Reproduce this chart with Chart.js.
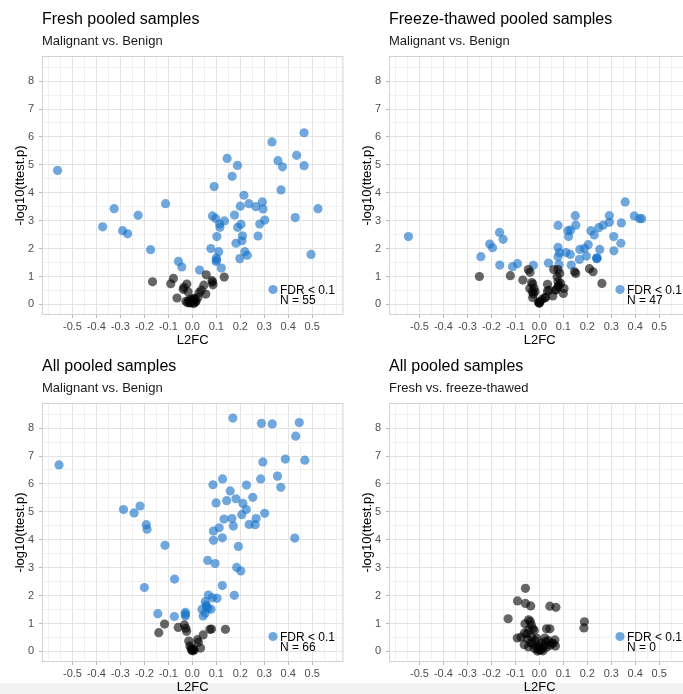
<!DOCTYPE html>
<html><head><meta charset="utf-8">
<script src="https://cdn.jsdelivr.net/npm/chart.js@4/dist/chart.umd.min.js"></script>
<style>
html,body{margin:0;padding:0;background:#fff;overflow:hidden;width:683px;height:694px;position:relative;}
.strip{position:absolute;left:0;top:683px;width:683px;height:11px;background:#f2f2f2;z-index:0;}
.panel{position:absolute;width:348px;height:347px;z-index:1;}
canvas{display:block;}
</style></head><body>
<div class="strip"></div>
<div class="panel" style="left:0;top:0"><canvas id="c0" width="348" height="347"></canvas></div>
<div class="panel" style="left:347px;top:0"><canvas id="c1" width="348" height="347"></canvas></div>
<div class="panel" style="left:0;top:347px"><canvas id="c2" width="348" height="347"></canvas></div>
<div class="panel" style="left:347px;top:347px"><canvas id="c3" width="348" height="347"></canvas></div>
<script>
// ---- data ----
const panelTitles = ['Fresh pooled samples', 'Freeze-thawed pooled samples', 'All pooled samples', 'All pooled samples'];
const panelSubtitles = ['Malignant vs. Benign', 'Malignant vs. Benign', 'Malignant vs. Benign', 'Fresh vs. freeze-thawed'];
const panelN = [55, 47, 66, 0];
const legendLabel = 'FDR < 0.1';
const xTitle = 'L2FC';
const yTitle = '-log10(ttest.p)';
const xTickLabels = ['-0.5','-0.4','-0.3','-0.2','-0.1','0.0','0.1','0.2','0.3','0.4','0.5'];
const yTickLabels = ['0','1','2','3','4','5','6','7','8'];

const freshSig = [[-0.562,4.80],[-0.326,3.43],[-0.374,2.78],[-0.291,2.64],[-0.270,2.53],[-0.226,3.19],[-0.174,1.96],[-0.112,3.61],[-0.058,1.54],[-0.044,1.34],[0.030,1.23],[0.077,2.00],[0.084,3.17],[0.091,4.22],[0.097,3.08],[0.100,1.66],[0.099,1.54],[0.101,1.59],[0.102,2.43],[0.110,1.89],[0.114,2.88],[0.115,2.76],[0.121,1.30],[0.134,2.99],[0.145,5.23],[0.166,4.59],[0.176,3.20],[0.182,2.19],[0.188,4.98],[0.189,2.76],[0.198,1.64],[0.200,3.52],[0.203,2.87],[0.209,2.46],[0.207,2.28],[0.215,3.91],[0.219,1.89],[0.229,1.76],[0.236,3.61],[0.265,3.50],[0.274,2.45],[0.281,2.88],[0.292,3.67],[0.295,3.42],[0.302,3.02],[0.332,5.82],[0.357,5.15],[0.370,4.10],[0.376,4.93],[0.429,3.11],[0.435,5.34],[0.466,6.15],[0.466,4.97],[0.495,1.79],[0.524,3.43]];
const freshNs = [[-0.166,0.81],[-0.090,0.74],[-0.079,0.93],[-0.064,0.23],[-0.038,0.54],[-0.035,0.61],[-0.023,0.73],[-0.018,0.45],[-0.027,0.11],[-0.015,0.15],[-0.004,0.18],[0.003,0.09],[0.010,0.20],[0.016,0.12],[0.023,0.25],[0.028,0.42],[0.037,0.51],[0.048,0.69],[0.056,0.37],[0.058,1.06],[0.082,0.85],[0.086,0.70],[0.084,0.80],[0.133,0.98],[-0.008,0.05],[0.006,0.03],[0.012,0.08],[-0.012,0.06],[0.000,0.14],[0.005,0.22],[-0.020,0.06]];

const thawSig = [[-0.546,2.43],[-0.244,1.71],[-0.207,2.16],[-0.195,2.03],[-0.166,2.58],[-0.165,1.41],[-0.151,2.33],[-0.112,1.35],[-0.091,1.46],[-0.025,1.40],[0.038,1.48],[0.078,2.83],[0.078,2.04],[0.078,1.71],[0.084,1.85],[0.082,1.43],[0.111,1.86],[0.119,2.64],[0.122,2.43],[0.130,2.66],[0.129,1.79],[0.133,1.41],[0.150,3.18],[0.152,2.84],[0.167,1.61],[0.169,1.97],[0.188,2.01],[0.196,1.73],[0.204,2.14],[0.215,2.64],[0.229,2.49],[0.239,1.65],[0.241,1.67],[0.248,2.75],[0.252,1.97],[0.266,2.84],[0.292,3.18],[0.292,2.94],[0.310,2.43],[0.311,1.92],[0.340,2.19],[0.342,2.92],[0.358,3.67],[0.396,3.17],[0.418,3.07],[0.427,3.07],[0.240,1.64]];
const thawNs = [[-0.250,1.00],[-0.121,1.03],[-0.069,0.87],[-0.046,1.25],[-0.039,1.15],[-0.040,0.57],[-0.032,0.78],[-0.027,0.73],[-0.029,0.45],[-0.025,0.37],[-0.028,0.25],[-0.022,0.57],[-0.018,0.45],[-0.004,0.08],[0.000,0.04],[0.003,0.10],[0.012,0.18],[0.023,0.24],[0.034,0.72],[0.040,0.51],[0.034,0.48],[0.056,0.30],[0.060,1.25],[0.071,0.54],[0.074,0.99],[0.078,1.25],[0.078,0.81],[0.081,0.69],[0.085,1.11],[0.089,0.75],[0.100,0.39],[0.103,0.57],[0.147,1.17],[0.152,1.11],[0.209,1.28],[0.224,1.17],[0.261,0.75],[0.067,0.51],[0.078,0.63],[0.000,0.06],[0.026,0.25]];

const allSig = [[-0.556,6.68],[-0.287,5.08],[-0.243,4.96],[-0.218,5.21],[-0.192,4.54],[-0.189,4.38],[-0.200,2.29],[-0.114,3.80],[-0.144,1.35],[-0.074,2.59],[-0.075,1.25],[-0.029,1.40],[-0.029,1.33],[-0.029,1.27],[0.040,1.51],[0.045,1.27],[0.054,1.78],[0.054,1.38],[0.058,1.66],[0.065,1.54],[0.067,2.02],[0.064,3.26],[0.078,1.51],[0.084,1.92],[0.088,4.31],[0.088,3.98],[0.086,5.97],[0.095,3.15],[0.099,5.32],[0.103,1.90],[0.112,4.43],[0.125,2.36],[0.125,4.07],[0.126,6.18],[0.132,4.74],[0.143,5.40],[0.158,5.75],[0.165,4.76],[0.169,8.36],[0.171,4.49],[0.175,2.01],[0.182,5.47],[0.185,3.01],[0.192,3.76],[0.202,2.88],[0.206,4.90],[0.211,5.30],[0.225,5.08],[0.226,5.96],[0.237,4.55],[0.252,5.52],[0.262,4.54],[0.266,4.76],[0.285,6.18],[0.288,8.17],[0.294,6.79],[0.302,4.95],[0.333,8.15],[0.355,6.28],[0.369,5.88],[0.388,6.89],[0.427,4.06],[0.431,7.71],[0.446,8.20],[0.469,6.85],[0.060,1.60]];
const allNs = [[-0.140,0.67],[-0.116,0.98],[-0.059,0.86],[-0.033,0.95],[-0.027,0.83],[-0.024,0.72],[-0.015,0.37],[-0.006,0.12],[0.000,0.06],[0.004,0.09],[-0.003,0.04],[0.008,0.05],[0.021,0.42],[0.025,0.33],[0.034,0.12],[0.045,0.59],[0.073,0.79],[0.080,0.80],[0.138,0.79],[-0.010,0.20],[0.002,0.02]];

const ftSig = [];
const ftNs = [[-0.130,1.17],[-0.091,1.81],[-0.058,2.26],[-0.058,1.72],[-0.036,1.63],[0.044,1.62],[0.069,1.58],[0.188,1.06],[0.186,0.84],[-0.092,0.48],[-0.076,0.51],[-0.062,0.66],[-0.063,0.24],[-0.060,0.99],[-0.045,1.13],[-0.038,1.08],[-0.043,0.78],[-0.033,0.95],[-0.027,0.81],[-0.021,0.75],[-0.032,0.51],[-0.045,0.16],[-0.029,0.27],[-0.018,0.39],[-0.010,0.16],[-0.004,0.06],[0.004,0.04],[0.012,0.10],[0.021,0.22],[0.023,0.48],[0.030,0.81],[0.044,0.81],[0.037,0.39],[0.051,0.30],[0.065,0.41],[0.067,0.19],[0.058,0.29],[-0.052,0.63],[-0.011,0.47],[-0.035,0.30],[0.002,0.12],[0.010,0.30],[0.030,0.15],[-0.020,0.10],[0.015,0.02],[-0.008,0.01],[0.045,0.22],[-0.050,0.45],[0.026,0.35],[0.000,0.20]];

const panelSig = [freshSig, thawSig, allSig, ftSig];
const panelNs = [freshNs, thawNs, allNs, ftNs];

// ---- styling ----
const FONT = "'Liberation Sans', Arial, Helvetica, sans-serif";
Chart.defaults.font.family = FONT;
const SIG = 'rgba(25,115,200,0.62)';
const NS = 'rgba(0,0,0,0.6)';
const GRID_MAJOR = '#e3e3e3';
const GRID_MINOR = '#f0f0f0';

function xLabelFor(v) {
  const k = Math.round(v * 10);
  if (Math.abs(v * 10 - k) > 1e-6) return '';
  const i = k + 5;
  return (i >= 0 && i < xTickLabels.length) ? xTickLabels[i] : '';
}
function yLabelFor(v) {
  const k = Math.round(v);
  if (Math.abs(v - k) > 1e-6) return '';
  return (k >= 0 && k < yTickLabels.length) ? yTickLabels[k] : '';
}

const decor = {
  id: 'decor',
  afterDraw(chart, args, opts) {
    const {ctx, chartArea: a} = chart;
    ctx.save();
    ctx.strokeStyle = '#d2d2d2';
    ctx.lineWidth = 1;
    ctx.strokeRect(a.left + 0.5, a.top + 0.5, a.right - a.left - 1, a.bottom - a.top - 1);
    const cx = a.left + 231, cy = a.bottom - 25.5;
    ctx.fillStyle = SIG;
    ctx.beginPath(); ctx.arc(cx, cy, 4.6, 0, Math.PI * 2); ctx.fill();
    ctx.fillStyle = '#000';
    ctx.font = '12px ' + FONT;
    ctx.textAlign = 'left';
    ctx.textBaseline = 'middle';
    ctx.fillText(legendLabel, cx + 7, cy + 1);
    ctx.fillText('N = ' + opts.n, cx + 7, cy + 11);
    ctx.restore();
  }
};

function toPts(arr) { return arr.map(p => ({x: p[0], y: p[1]})); }

function makePanel(i) {
  const ctx = document.getElementById('c' + i);
  new Chart(ctx, {
    type: 'scatter',
    data: {
      datasets: [
        {data: toPts(panelNs[i]), backgroundColor: NS, borderWidth: 0, pointRadius: 4.6, pointHoverRadius: 4.6},
        {data: toPts(panelSig[i]), backgroundColor: SIG, borderWidth: 0, pointRadius: 4.6, pointHoverRadius: 4.6}
      ]
    },
    options: {
      responsive: false,
      animation: false,
      events: [],
      layout: {padding: {left: 0, right: 0, top: 0, bottom: 0}},
      scales: {
        x: {
          type: 'linear', position: 'bottom', min: -0.627, max: 0.63,
          afterFit: s => { s.height = 32; },
          ticks: {stepSize: 0.05, includeBounds: false, autoSkip: false, maxRotation: 0, minRotation: 0,
                  color: '#4d4d4d', font: {size: 11}, padding: 2, callback: v => xLabelFor(v)},
          grid: {
            color: c => (c.tick && xLabelFor(c.tick.value)) ? GRID_MAJOR : GRID_MINOR,
            tickColor: c => (c.tick && xLabelFor(c.tick.value)) ? '#b8b8b8' : 'rgba(0,0,0,0)',
            lineWidth: 1, tickLength: 3
          },
          border: {display: false},
          title: {display: true, text: xTitle, color: '#000', font: {size: 13}, padding: {top: 0, bottom: -1}}
        },
        y: {
          type: 'linear', position: 'left', min: -0.38, max: 8.9,
          afterFit: s => { s.width = 42; },
          ticks: {stepSize: 0.5, includeBounds: false, autoSkip: false,
                  color: '#4d4d4d', font: {size: 11}, padding: 5, callback: v => yLabelFor(v)},
          grid: {
            color: c => (c.tick && yLabelFor(c.tick.value)) ? GRID_MAJOR : GRID_MINOR,
            tickColor: c => (c.tick && yLabelFor(c.tick.value)) ? '#b8b8b8' : 'rgba(0,0,0,0)',
            lineWidth: 1, tickLength: 3
          },
          border: {display: false},
          title: {display: true, text: yTitle, color: '#000', font: {size: 13}, padding: {top: 13, bottom: 0}}
        }
      },
      plugins: {
        legend: {display: false},
        tooltip: {enabled: false},
        title: {display: true, text: panelTitles[i], align: 'start', fullSize: false, color: '#000',
                font: {size: 16, weight: 'normal', lineHeight: 1.2}, padding: {top: 10, bottom: 2}},
        subtitle: {display: true, text: panelSubtitles[i], align: 'start', fullSize: false, color: '#1a1a1a',
                font: {size: 13, weight: 'normal', lineHeight: 1.2}, padding: {top: 2, bottom: 7.2}},
        decor: {n: panelN[i]}
      }
    },
    plugins: [decor]
  });
}
for (let i = 0; i < 4; i++) makePanel(i);
</script>
</body></html>
